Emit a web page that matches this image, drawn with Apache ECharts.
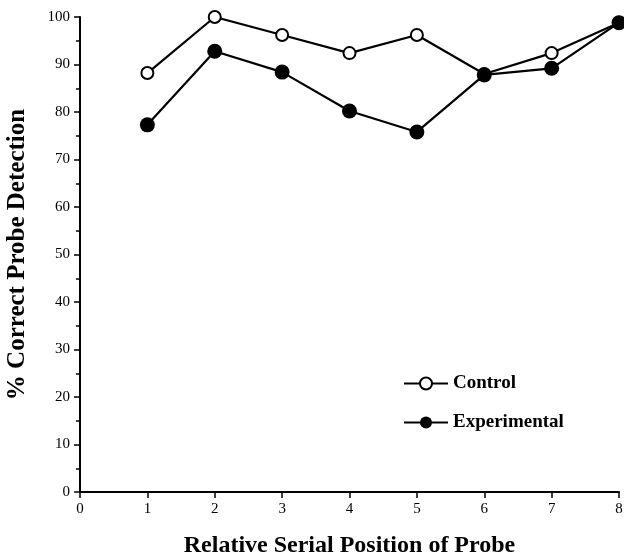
<!DOCTYPE html>
<html>
<head>
<meta charset="utf-8">
<script src="https://cdn.jsdelivr.net/npm/echarts@6/dist/echarts.min.js"></script>
<style>html,body{margin:0;padding:0;background:#fff;}#c{width:624px;height:556px;}</style>
</head>
<body>
<div id="c"></div>
<script>
const positions = [1, 2, 3, 4, 5, 6, 7, 8];
const control = [88.2, 100, 96.2, 92.4, 96.2, 88.0, 92.4, 98.8];
const experimental = [77.3, 92.8, 88.4, 80.2, 75.8, 87.8, 89.2, 98.8];
const seriesNames = ['Control', 'Experimental'];
const xTitle = 'Relative Serial Position of Probe';
const yTitle = '% Correct Probe Detection';

const font = 'Liberation Serif, Times New Roman, serif';
const chart = echarts.init(document.getElementById('c'), null, {renderer: 'canvas'});
chart.setOption({
  animation: false,
  backgroundColor: '#fff',
  grid: {left: 80, right: 5, top: 17, bottom: 64, containLabel: false, outerBoundsMode: 'none'},
  legend: {
    orient: 'vertical', left: 398, top: 369, itemGap: 20,
    itemWidth: 44, itemHeight: 15,
    textStyle: {fontFamily: font, fontWeight: 'bold', fontSize: 19, color: '#000'},
    data: seriesNames
  },
  xAxis: {
    type: 'value', min: 0, max: 8, interval: 1,
    name: xTitle, nameLocation: 'middle', nameGap: 42,
    nameTextStyle: {fontFamily: font, fontWeight: 'bold', fontSize: 24, color: '#000'},
    axisLine: {onZero: false, lineStyle: {color: '#000', width: 2}},
    axisTick: {length: 6, lineStyle: {color: '#000', width: 1.5}},
    axisLabel: {fontFamily: font, fontSize: 15, color: '#000', margin: 10},
    splitLine: {show: false}
  },
  yAxis: {
    type: 'value', min: 0, max: 100, interval: 10,
    name: yTitle, nameLocation: 'middle', nameGap: 50, nameRotate: 90,
    nameTextStyle: {fontFamily: font, fontWeight: 'bold', fontSize: 25, color: '#000'},
    axisLine: {onZero: false, lineStyle: {color: '#000', width: 2}},
    axisTick: {length: 6, lineStyle: {color: '#000', width: 1.5}},
    minorTick: {show: true, splitNumber: 2, length: 4, lineStyle: {color: '#000', width: 1.5}},
    axisLabel: {fontFamily: font, fontSize: 15, color: '#000', margin: 10},
    splitLine: {show: false}
  },
  series: [
    {
      name: seriesNames[0], type: 'line',
      data: positions.map((p, i) => [p, control[i]]),
      symbol: 'emptyCircle', symbolSize: 12,
      lineStyle: {color: '#000', width: 2.2},
      itemStyle: {color: '#000', borderColor: '#000', borderWidth: 2},
      z: 2
    },
    {
      name: seriesNames[1], type: 'line',
      data: positions.map((p, i) => [p, experimental[i]]),
      symbol: 'circle', symbolSize: 15,
      lineStyle: {color: '#000', width: 2.2},
      itemStyle: {color: '#000'},
      z: 3
    }
  ]
});
</script>
</body>
</html>
